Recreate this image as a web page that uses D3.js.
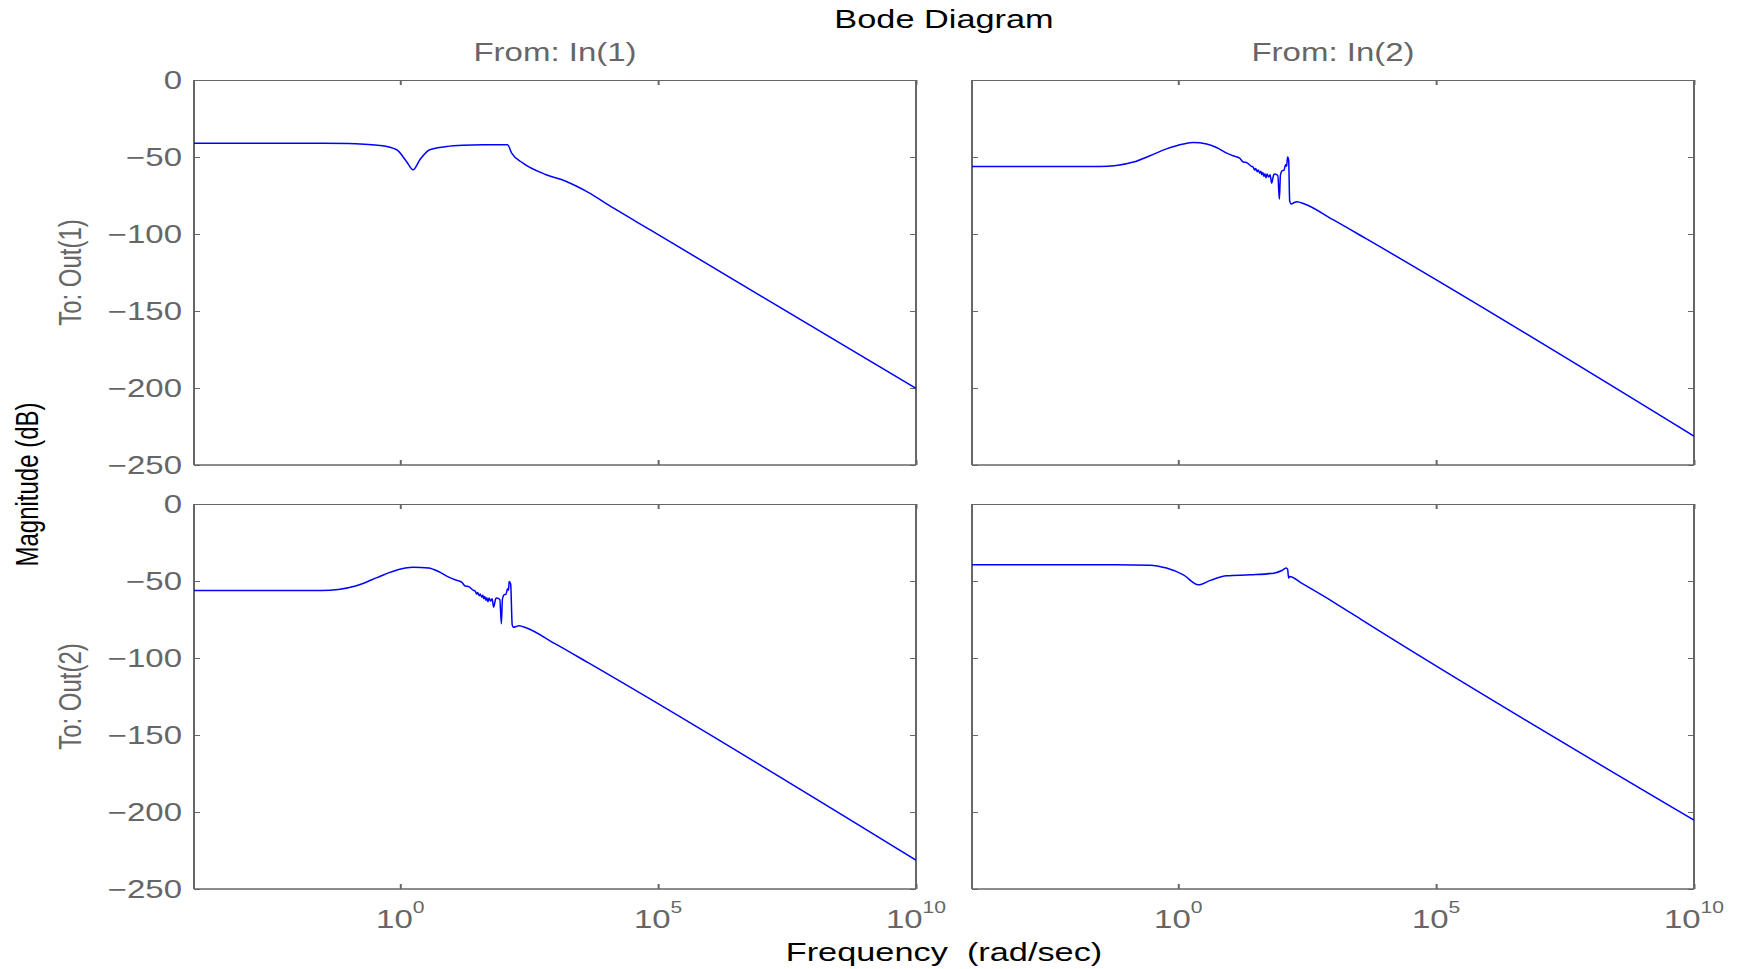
<!DOCTYPE html>
<html>
<head>
<meta charset="utf-8">
<script src="https://cdn.jsdelivr.net/npm/d3@7"></script>
<style>
  body { margin: 0; background: #fff; }
  text { font-family: "Liberation Sans", Arial, sans-serif; white-space: pre; }
</style>
</head>
<body>
<div id="chart"></div>
<script>
// frequency exponent (log10 rad/sec) and magnitude (dB)
var magOut1In1 = [
  [-4, -41.0], [-1.5, -41.0], [-1.0, -41.3], [-0.7, -41.8], [-0.4, -42.5], [-0.07, -45.3],
  [0.12, -52.9], [0.25, -58.3], [0.38, -51.8], [0.57, -45.3], [0.9, -43.2], [1.22, -42.4],
  [1.6, -42.1], [2.08, -42.1], [2.16, -47.5], [2.38, -54.0], [2.83, -61.5], [3.22, -65.9],
  [3.61, -72.3], [4.13, -83.1], [4.84, -97.2], [10, -200.3]
];

var magOut1In2 = [
  [-4, -56.2], [-1.52, -56.1], [-1.2, -55.5], [-0.87, -53.3], [-0.55, -49.2], [-0.23, -44.7],
  [0.1, -41.5], [0.29, -40.6], [0.55, -41.5], [0.74, -43.8], [0.94, -47.5], [1.06, -49.2],
  [1.19, -50.7], [1.26, -53.3], [1.32, -53.5], [1.42, -56.1], [1.45, -56.5], [1.48, -58.5],
  [1.5, -57.5], [1.53, -59.5], [1.55, -58.5], [1.58, -60.5], [1.6, -59.3], [1.62, -61.5],
  [1.64, -60.0], [1.66, -62.5], [1.68, -60.8], [1.7, -63.5], [1.72, -61.0], [1.75, -63.0],
  [1.78, -61.5], [1.81, -67.0], [1.85, -61.5], [1.87, -61.0], [1.93, -62.0], [1.96, -77.5],
  [1.98, -62.0], [2.01, -59.0], [2.05, -58.5], [2.08, -55.0], [2.1, -56.0], [2.12, -50.0],
  [2.14, -52.0], [2.16, -78.5], [2.19, -80.5], [2.25, -79.5], [2.3, -79.0], [2.45, -80.5],
  [3.0, -90.7], [3.65, -103.2], [10, -231.3]
];

var magOut2In1 = [
  [-4, -56.2], [-1.52, -56.1], [-1.2, -55.5], [-0.87, -53.3], [-0.55, -49.2], [-0.4, -47.1],
  [-0.23, -44.7], [0.1, -41.5], [0.25, -41.0], [0.55, -41.5], [0.74, -43.8], [0.94, -47.5],
  [1.06, -49.2], [1.19, -50.7], [1.26, -53.3], [1.32, -53.5], [1.42, -56.1], [1.45, -56.5],
  [1.48, -58.5], [1.5, -57.5], [1.53, -59.5], [1.55, -58.5], [1.58, -60.5], [1.6, -59.3],
  [1.62, -61.5], [1.64, -60.0], [1.66, -62.5], [1.68, -60.8], [1.7, -63.5], [1.72, -61.0],
  [1.75, -63.0], [1.78, -61.5], [1.81, -67.0], [1.85, -61.5], [1.87, -61.0], [1.93, -62.0],
  [1.96, -77.7], [1.98, -62.0], [2.01, -59.0], [2.05, -58.5], [2.08, -55.0], [2.1, -56.0],
  [2.11, -50.3], [2.14, -52.0], [2.17, -78.5], [2.19, -80.0], [2.25, -79.5], [2.3, -79.0],
  [2.45, -80.5], [3.0, -90.7], [3.65, -103.2], [10, -231.3]
];

var magOut2In2 = [
  [-4, -39.5], [-1.5, -39.5], [-0.55, -39.7], [-0.23, -41.6], [0.1, -46.0], [0.39, -52.5],
  [0.62, -49.6], [0.94, -46.6], [1.4, -46.0], [1.85, -44.9], [2.01, -43.2], [2.09, -41.6],
  [2.12, -42.5], [2.14, -48.1], [2.16, -47.0], [2.39, -51.4], [3.04, -64.3], [3.55, -75.1],
  [10, -205.3]
];

var inputs = ["From: In(1)", "From: In(2)"];
var outputs = ["To: Out(1)", "To: Out(2)"];
var magTicks = [0, -50, -100, -150, -200, -250];
var freqTicks = [0, 5, 10]; // exponents of 10

var panels = [
  {row: 0, col: 0, data: magOut1In1},
  {row: 0, col: 1, data: magOut1In2},
  {row: 1, col: 0, data: magOut2In1},
  {row: 1, col: 1, data: magOut2In2}
];

// figure layout (the original figure is stretched horizontally)
var W = 1738, H = 969;
var stretch = 1.32;
var colLeft = [194, 972], plotW = 722;
var rowTop = [80, 504], plotH = 385;
var grey = "#666";

var svg = d3.select("#chart").append("svg")
  .attr("width", W)
  .attr("height", H);

var x = d3.scaleLog().domain([1e-4, 1e10]).range([0, plotW]);
var y = d3.scaleLinear().domain([-250, 0]).range([plotH, 0]);

var line = d3.line()
  .x(function(d) { return x(Math.pow(10, d[0])); })
  .y(function(d) { return y(d[1]); })
  .curve(d3.curveMonotoneX);

function label(parent, tx, ty, str, size, color, anchor, rotate) {
  return parent.append("text")
    .attr("transform", "translate(" + tx + "," + ty + ") scale(" + stretch + ",1)" + (rotate ? " rotate(-90)" : ""))
    .attr("text-anchor", anchor)
    .attr("font-size", size)
    .attr("fill", color)
    .text(str);
}

svg.append("defs").append("clipPath").attr("id", "plotclip")
  .append("rect").attr("width", plotW).attr("height", plotH);

panels.forEach(function(p) {
  var g = svg.append("g")
    .attr("transform", "translate(" + colLeft[p.col] + "," + rowTop[p.row] + ")");

  // ticks on all four sides, pointing inward
  var axes = [
    {axis: d3.axisLeft(y).tickValues(magTicks).tickSize(-6), t: "translate(0,0)", w: 1},
    {axis: d3.axisRight(y).tickValues(magTicks).tickSize(-6), t: "translate(" + plotW + ",0)", w: 1},
    {axis: d3.axisBottom(x).tickValues(freqTicks.map(function(e) { return Math.pow(10, e); })).tickSize(-5), t: "translate(0," + plotH + ")", w: 2},
    {axis: d3.axisTop(x).tickValues(freqTicks.map(function(e) { return Math.pow(10, e); })).tickSize(-5), t: "translate(0,0)", w: 2}
  ];
  axes.forEach(function(a) {
    var ag = g.append("g").attr("transform", a.t)
      .call(a.axis.tickFormat("").tickSizeOuter(0));
    ag.select(".domain").remove();
    ag.selectAll(".tick line").attr("stroke", grey).attr("stroke-width", a.w);
  });

  // frame: vertical edges look heavier because of the stretch
  g.append("line").attr("x1", 0).attr("x2", plotW).attr("y1", 0.5).attr("y2", 0.5)
    .attr("stroke", grey).attr("stroke-width", 1.2);
  g.append("line").attr("x1", 0).attr("x2", plotW).attr("y1", plotH).attr("y2", plotH)
    .attr("stroke", grey).attr("stroke-width", 1.4);
  g.append("line").attr("x1", 0).attr("x2", 0).attr("y1", 0).attr("y2", plotH)
    .attr("stroke", grey).attr("stroke-width", 2);
  g.append("line").attr("x1", plotW).attr("x2", plotW).attr("y1", 0).attr("y2", plotH)
    .attr("stroke", grey).attr("stroke-width", 2);

  g.append("path")
    .datum(p.data)
    .attr("clip-path", "url(#plotclip)")
    .attr("fill", "none")
    .attr("stroke", "#0000ff")
    .attr("stroke-width", 1.5)
    .attr("stroke-linejoin", "round")
    .attr("d", line);

  // magnitude tick labels on the left column
  if (p.col === 0) {
    magTicks.forEach(function(v) {
      label(g, -12, y(v) + 9, d3.format("d")(v), 25, grey, "end");
    });
  }

  // frequency tick labels on the bottom row
  if (p.row === 1) {
    freqTicks.forEach(function(e) {
      var t = label(g, x(Math.pow(10, e)), plotH + 39, "10", 25, grey, "middle");
      t.append("tspan").attr("dy", -15).attr("font-size", 16).text(String(e));
    });
  }
});

// column and row headers
inputs.forEach(function(s, i) {
  label(svg, colLeft[i] + plotW / 2, 61, s, 25, grey, "middle");
});
outputs.forEach(function(s, i) {
  label(svg, 81, rowTop[i] + plotH / 2, s, 24, grey, "middle", true);
});

var midX = (colLeft[0] + colLeft[1] + plotW) / 2;
label(svg, midX, 28, "Bode Diagram", 26, "#000", "middle");
label(svg, midX, 961, "Frequency  (rad/sec)", 26, "#000", "middle");
label(svg, 38, (rowTop[0] + rowTop[1] + plotH) / 2, "Magnitude (dB)", 24, "#000", "middle", true);
</script>
</body>
</html>
